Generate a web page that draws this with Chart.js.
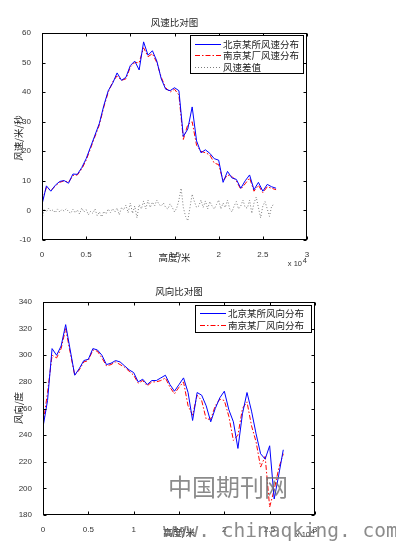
<!DOCTYPE html>
<html><head><meta charset="utf-8">
<script src="https://cdn.jsdelivr.net/npm/chart.js@4"></script>
<style>
html,body{margin:0;padding:0;background:#fff;}
#wrap{position:relative;width:396px;height:548px;overflow:hidden;background:#fff;}
canvas{position:absolute;left:0;}
#c1{top:0;}
#c2{top:270px;}
.wm{position:absolute;white-space:nowrap;color:rgba(110,110,110,0.8);pointer-events:none;}
#wm1{left:168px;top:468px;font:24px "Noto Sans CJK SC";letter-spacing:0px;}
#wm2{left:163px;top:519px;font:19.5px "DejaVu Sans Mono";}
</style></head>
<body><div id="wrap">
<canvas id="c1" width="396" height="275"></canvas>
<canvas id="c2" width="396" height="278"></canvas>
<div class="wm" id="wm1">中国期刊网</div>
<div class="wm" id="wm2">www. chinaqking. com</div>
</div>
<script>
// ---------- data (heights in units of 10^4 m) ----------
const heights = [0,0.05,0.1,0.15,0.2,0.25,0.3,0.35,0.4,0.45,0.5,0.55,0.6,0.65,0.7,0.75,0.8,0.85,0.9,0.95,1,1.05,1.1,1.15,1.2,1.25,1.3,1.35,1.4,1.45,1.5,1.55,1.6,1.65,1.7,1.75,1.8,1.85,1.9,1.95,2,2.05,2.1,2.15,2.2,2.25,2.3,2.35,2.4,2.45,2.5,2.55,2.6,2.65];
const beijingSpeed = [2,8.3,6.5,8.5,9.8,10.1,9.2,12.3,12.2,14.5, 17.5,21.5,25.5,29.5,35.5,40.5,43,46.5,44,45, 49,50.5,47.5,57,52.5,54,50.5,44.5,41,40.5, 41.5,40.5,25,27.5,35,23.5,19.5,20.5,19.3,17.5, 17,9.5,13.2,11,10.5,7.5,10,12,7,9.5, 6.5,8.8,8,7.5];
const nanjingSpeed = [3,7.8,6.8,8.2,9.5,10,9.5,11.8,12,14, 17,21,25,29,35,40,43.5,45.5,44,44.5, 48.5,50,50,55,52,53,50,45,41.5,40, 41,39,24,29,30,22,20,19.5,18.8,16, 15.5,10,12,11.5,10,7.2,9,11,6.5,8.5, 6,8,7.5,7];
const diffHeights = [0,0.025,0.05,0.075,0.1,0.125,0.15,0.175,0.2,0.225,0.25,0.275,0.3,0.325,0.35,0.375,0.4,0.425,0.45,0.475,0.5,0.525,0.55,0.575,0.6,0.625,0.65,0.675,0.7,0.725,0.75,0.775,0.8,0.825,0.85,0.875,0.9,0.925,0.95,0.975,1,1.025,1.05,1.075,1.1,1.125,1.15,1.175,1.2,1.225,1.25,1.275,1.3,1.325,1.35,1.375,1.4,1.425,1.45,1.475,1.5,1.525,1.55,1.575,1.6,1.625,1.65,1.675,1.7,1.725,1.75,1.775,1.8,1.825,1.85,1.875,1.9,1.925,1.95,1.975,2,2.025,2.05,2.075,2.1,2.125,2.15,2.175,2.2,2.225,2.25,2.275,2.3,2.325,2.35,2.375,2.4,2.425,2.45,2.475,2.5,2.525,2.55,2.575,2.6,2.625];
const speedDiff = [-3,0.5,-0.5,0.8,-0.3,0.2,-0.8,0.5,-0.5,0.3, -0.2,0.6,-0.4,-1,0.4,-0.8,0.2,-1.2,0.8,-0.5, 0.3,-1.5,-0.3,-1,0.5,-1.8,-0.5,-2.2,-0.3,-1.2, 0.5,-0.8,0.6,-0.5,0.8,-1.5,1,0.2,1.8,-0.8, 2.5,-1,1.5,-2.5,2,0.5,3.2,0.5,3.5,1, 2.8,1.5,3.5,2,1.5,2.5,1,0.5,2.2,1, -0.5,0.8,3.5,7.5,1,-2,-3.5,1,5.5,3, 1,1.5,3.5,1,3.2,0.5,3,1.5,0.5,2, 3.5,0.5,2.5,1,3.5,0.5,-0.5,1.5,3,0.5, 1.5,3.5,1,0.8,3.5,-1,2.5,4.5,1,-2.5, 1.5,3,0.5,-2,1.5,2];
const beijingDir = [246,266,305,300,307,323,304,285,290,296, 297,305,304,300,293,294,296,295,292,289, 287,280,282,278,281,281,283,285,278,273, 278,283,272,251,272,270,262,250,260,268, 273,259,250,230,256,272,258,241,226,222, 232,192,210,229];
const nanjingDir = [248,272,300,298,305,320,302,285,289,295, 296,304,303,298,292,293,295,293,291,288, 285,279,281,277,280,280,281,283,276,271, 276,280,262,255,270,266,252,252,262,267, 266,254,236,240,260,265,247,235,216,224, 186,199,215,226];
const xTicks = [0,0.5,1,1.5,2,2.5,3];
const speedTicks = [-10,0,10,20,30,40,50,60];
const dirTicks = [180,200,220,240,260,280,300,320,340];
const speedLegend = ['北京某所风速分布','南京某厂风速分布','风速差值'];
const dirLegend = ['北京某所风向分布','南京某厂风向分布'];

const pts = (xs, ys) => xs.map((x,i)=>({x, y: ys[i]}));
const CJK = '"Noto Sans CJK SC"';
const TICKFONT = {family:'"Liberation Sans", Arial, sans-serif', size:8};
const BLUE = '#0000ff', RED = '#ff0000', GREY = '#7a7a7a';
const STYLES = [
  {color:BLUE, dash:[]},
  {color:RED, dash:[5,2,1.5,2]},
  {color:GREY, dash:[1,2]}
];

function framePlugin(cfg){
  return {
    id:'frame',
    afterDraw(chart){
      const ctx = chart.ctx, a = chart.chartArea, xs = chart.scales.x, ys = chart.scales.y;
      ctx.save();
      ctx.strokeStyle = '#000'; ctx.lineWidth = 1; ctx.setLineDash([]);
      const L = Math.round(a.left)+0.5, R = Math.round(a.right)-0.5, T = Math.round(a.top)+0.5, B = Math.round(a.bottom)-0.5;
      ctx.strokeRect(L, T, R-L, B-T);
      ctx.beginPath();
      xs.ticks.forEach(t=>{ const p = Math.round(xs.getPixelForValue(t.value))+0.5;
        ctx.moveTo(p,B); ctx.lineTo(p,B-3); ctx.moveTo(p,T); ctx.lineTo(p,T+3); });
      ys.ticks.forEach(t=>{ const p = Math.round(ys.getPixelForValue(t.value))+0.5;
        ctx.moveTo(L,p); ctx.lineTo(L+3,p); ctx.moveTo(R,p); ctx.lineTo(R-3,p); });
      ctx.stroke();
      // titles
      ctx.fillStyle = '#222';
      ctx.textAlign = 'center'; ctx.textBaseline = 'middle';
      ctx.font = '9.5px ' + CJK;
      ctx.fillText(cfg.title, (a.left+a.right)/2, cfg.titleY);
      ctx.fillText('高度/米', (a.left+a.right)/2, cfg.xTitleY);
      ctx.save();
      ctx.translate(18, cfg.yTitleY); ctx.rotate(-Math.PI/2);
      ctx.fillText(cfg.yTitle, 0, 0);
      ctx.restore();
      // x 10^4
      ctx.textAlign = 'right'; ctx.font = '7.5px "Liberation Sans", Arial, sans-serif';
      ctx.fillStyle = '#333';
      ctx.fillText('4', a.right, cfg.expY - 3);
      ctx.fillText('x 10', a.right - 5, cfg.expY);
      // legend
      const lg = cfg.legend;
      ctx.fillStyle = '#fff';
      ctx.fillRect(lg.x, lg.y, lg.w, lg.h);
      ctx.strokeStyle = '#000'; ctx.lineWidth = 1;
      ctx.strokeRect(lg.x+0.5, lg.y+0.5, lg.w-1, lg.h-1);
      ctx.textAlign = 'left'; ctx.textBaseline = 'middle';
      ctx.font = '9.5px ' + CJK;
      cfg.labels.forEach((lab,i)=>{
        const yy = Math.round(lg.y + lg.row0 + i*lg.rowH)+0.5;
        ctx.strokeStyle = STYLES[i].color; ctx.setLineDash(STYLES[i].dash);
        ctx.beginPath(); ctx.moveTo(lg.x+5, yy); ctx.lineTo(lg.x+31, yy); ctx.stroke();
        ctx.setLineDash([]);
        ctx.fillStyle = '#222';
        ctx.fillText(lab, lg.x+33, yy);
      });
      ctx.restore();
    }
  };
}

function ds(label, data, i){
  return {label, data, borderColor:STYLES[i].color, borderDash:STYLES[i].dash,
          borderWidth:1, pointRadius:0, tension:0, fill:false};
}

function makeChart(id, datasets, yMin, yMax, yStep, yW, xH, pad, cfg){
  return new Chart(document.getElementById(id), {
    type:'line',
    data:{datasets},
    options:{
      responsive:false, animation:false, parsing:true,
      layout:{padding:pad},
      plugins:{legend:{display:false}, tooltip:{enabled:false}, title:{display:false}},
      scales:{
        x:{type:'linear', min:0, max:3,
           afterBuildTicks:s=>{ s.ticks = xTicks.map(v=>({value:v})); },
           afterFit:s=>{ s.height = xH; },
           grid:{display:false}, border:{display:false},
           ticks:{color:'#333', font:TICKFONT, padding:2, maxRotation:0,
                  callback:v=>String(v)}},
        y:{type:'linear', min:yMin, max:yMax,
           afterBuildTicks:s=>{ s.ticks = cfg.yTicks.map(v=>({value:v})); },
           afterFit:s=>{ s.width = yW; },
           grid:{display:false}, border:{display:false},
           ticks:{color:'#333', font:TICKFONT, padding:3, callback:v=>String(v)}}
      }
    },
    plugins:[framePlugin(cfg)]
  });
}

makeChart('c1', [
    ds(speedLegend[0], pts(heights, beijingSpeed), 0),
    ds(speedLegend[1], pts(heights, nanjingSpeed), 1),
    ds(speedLegend[2], pts(diffHeights, speedDiff), 2)
  ], -10, 60, 10, 42, 35, {top:33, right:89, left:0, bottom:0},
  {title:'风速比对图', titleY:22.5, xTitleY:257, yTitle:'风速/米/秒', yTitleY:138, expY:264,
   yTicks:speedTicks, labels:speedLegend,
   legend:{x:190, y:35, w:114, h:39, row0:8.5, rowH:11.7}});

makeChart('c2', [
    ds(dirLegend[0], pts(heights, beijingDir), 0),
    ds(dirLegend[1], pts(heights, nanjingDir), 1)
  ], 180, 340, 20, 43, 33, {top:32, right:81, left:0, bottom:0},
  {title:'风向比对图', titleY:21, xTitleY:262, yTitle:'风向/度', yTitleY:138, expY:265,
   yTicks:dirTicks, labels:dirLegend,
   legend:{x:195, y:35, w:117, h:28, row0:7.5, rowH:12}});
</script>
</body></html>
